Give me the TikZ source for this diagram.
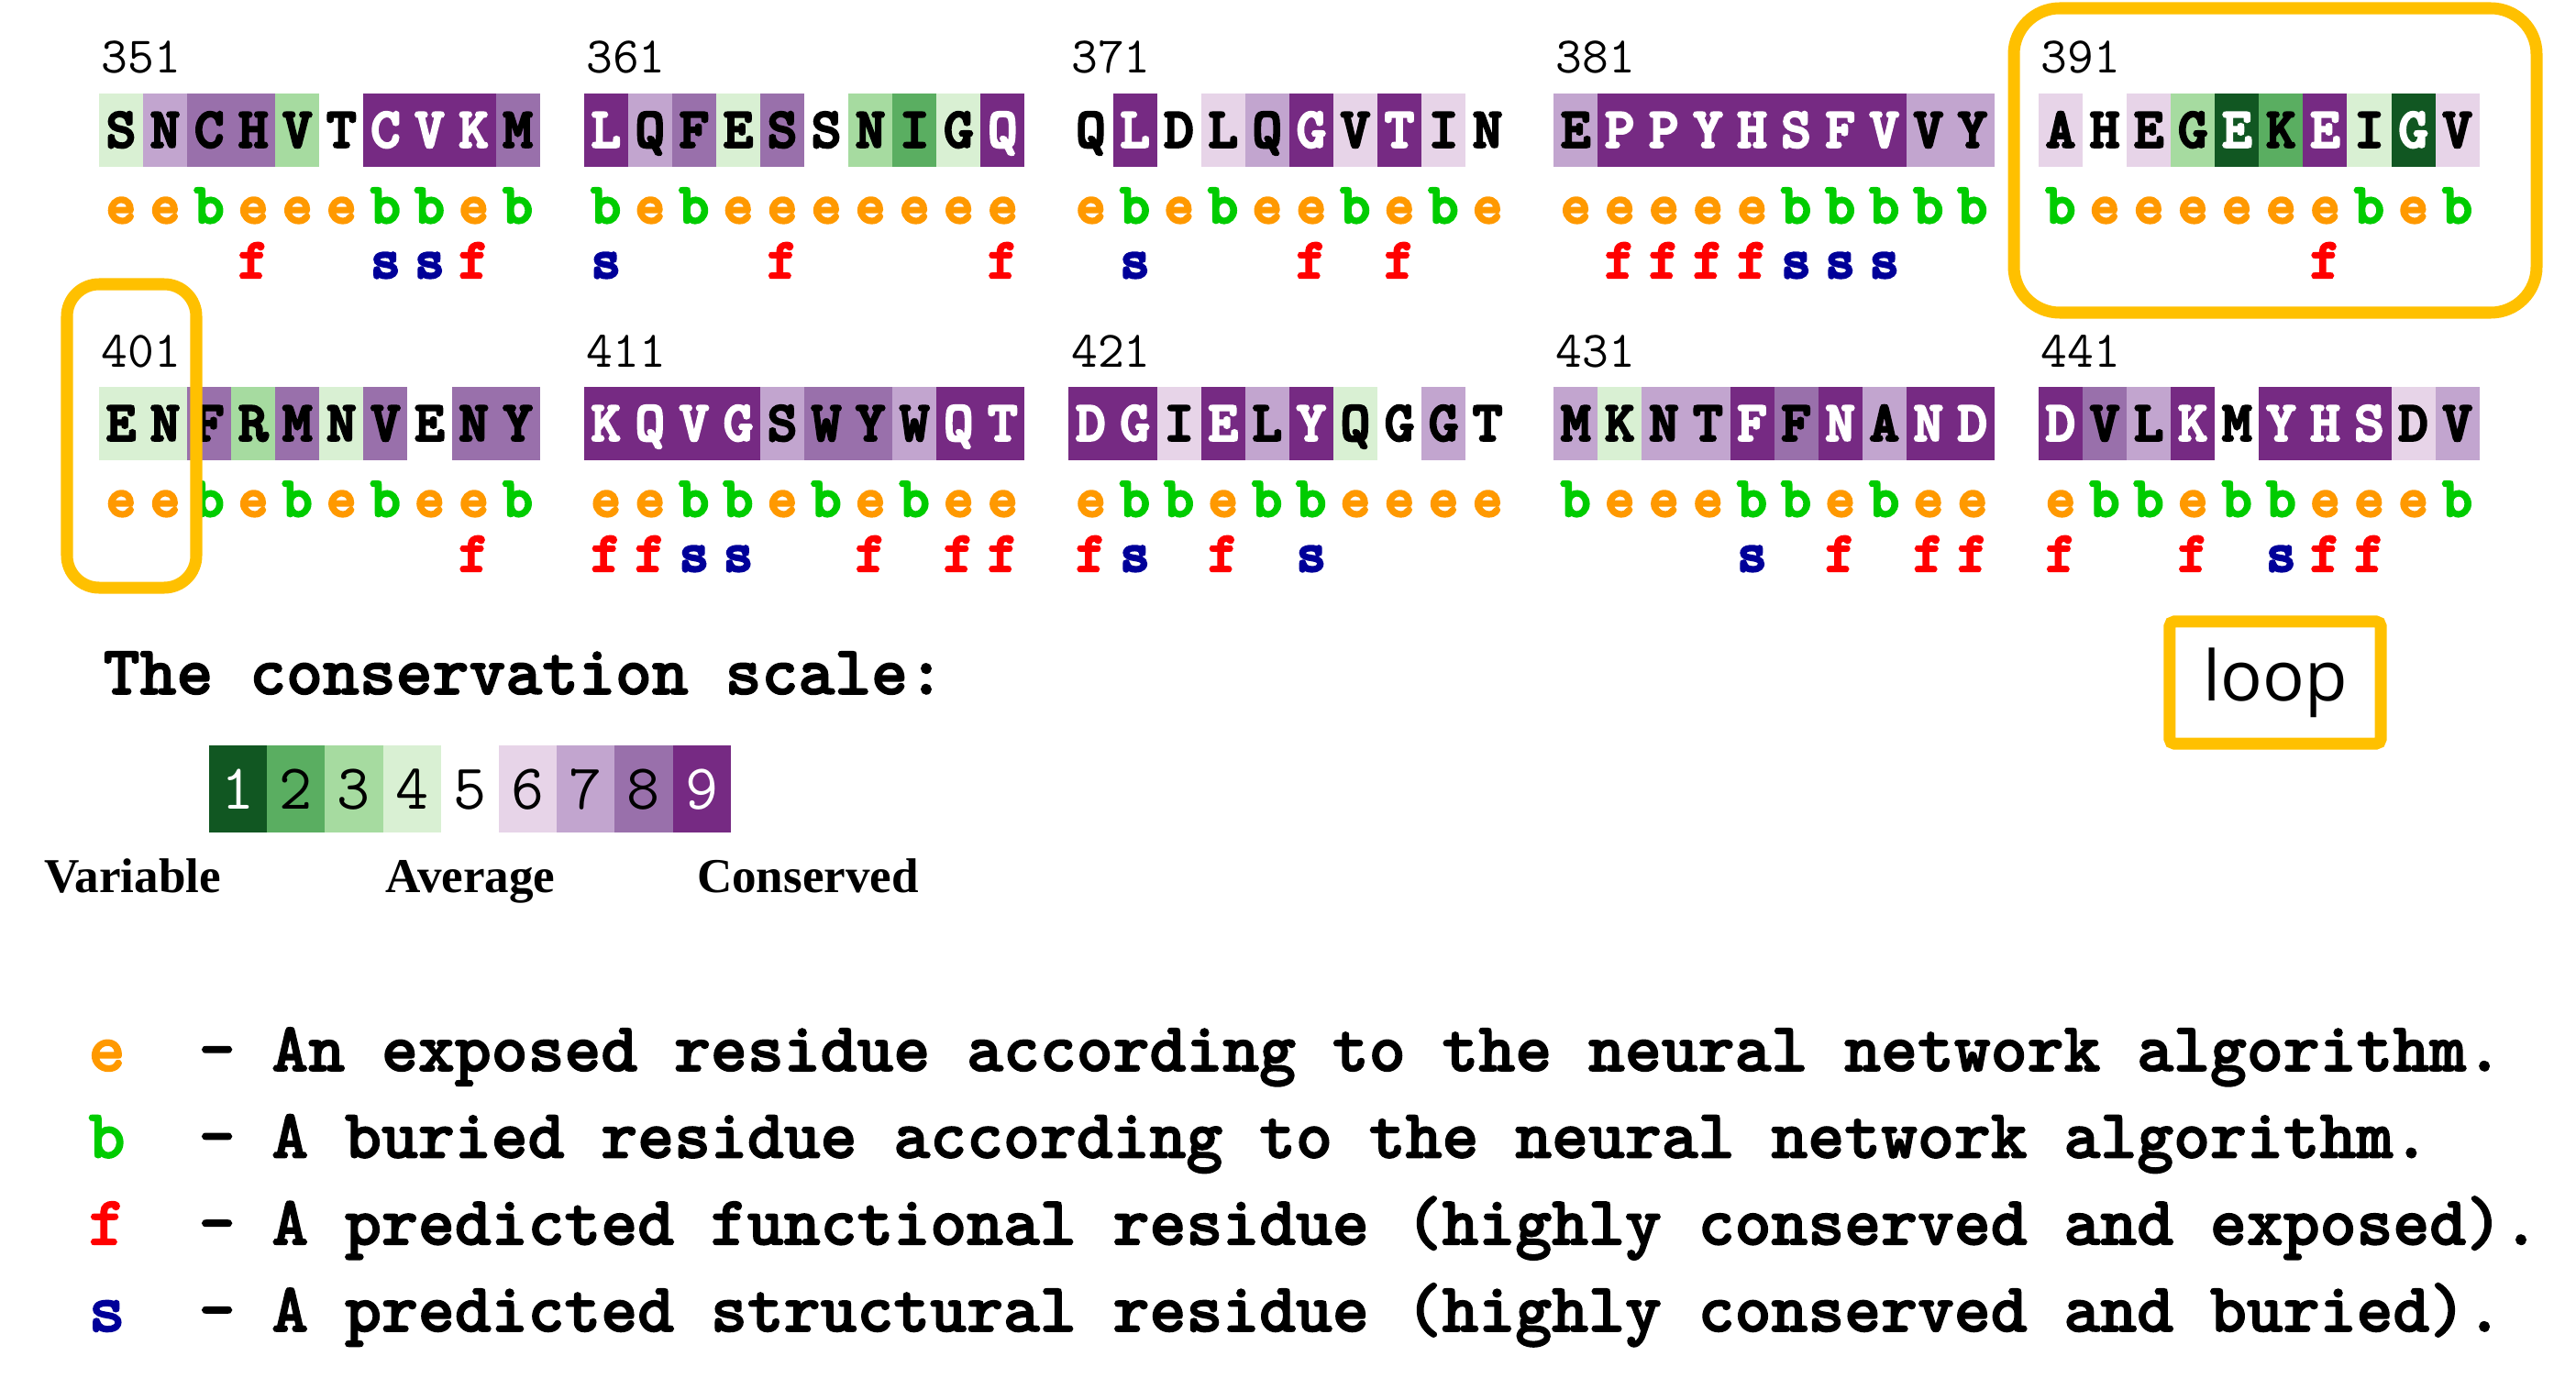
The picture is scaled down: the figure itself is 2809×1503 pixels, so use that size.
\documentclass[tikz,border=0pt]{standalone}
\usepackage{fontspec}
\newfontfamily\loopfont{Open Sans}
\newfontfamily\timesfont{Liberation Serif}
\newfontfamily\courbold{lmmonolt10-bold}[Extension=.otf,FakeBold=2]
\newfontfamily\courheavy{lmmonolt10-bold}[Extension=.otf,FakeBold=4]
\usetikzlibrary{positioning}

\definecolor{cg1}{RGB}{17,87,34}
\definecolor{cg2}{RGB}{90,174,97}
\definecolor{cg3}{RGB}{166,219,160}
\definecolor{cg4}{RGB}{217,240,211}
\definecolor{cg6}{RGB}{231,212,232}
\definecolor{cg7}{RGB}{194,165,207}
\definecolor{cg8}{RGB}{153,112,171}
\definecolor{cg9}{RGB}{118,42,131}
\definecolor{cexp}{RGB}{255,153,0}
\definecolor{cbur}{RGB}{0,204,0}
\definecolor{cfun}{RGB}{255,0,0}
\definecolor{cstr}{RGB}{0,0,153}
\definecolor{gold}{RGB}{255,192,0}

\newcommand{\resfont}{\fontsize{17.6pt}{18pt}\courheavy}
\newcommand{\posfont}{\fontsize{15.9pt}{16pt}\ttfamily\selectfont}
\newcommand{\keyfont}{\fontsize{21.6pt}{22pt}\courbold}
\newcommand{\gradefont}{\fontsize{19.9pt}{20pt}\ttfamily\selectfont}
\newcommand{\lblfont}{\fontsize{15.1pt}{16pt}\timesfont\bfseries\selectfont}
\def\nomark{n}

\begin{document}
\begin{tikzpicture}[x=0.01cm,y=-0.01cm,
  resbox/.style={minimum width=0.4807cm,minimum height=0.8cm,inner sep=0pt,text height=0.37cm,text depth=0pt,font=\resfont,text=black},
  gradebox/.style={minimum width=0.632cm,minimum height=0.95cm,inner sep=0pt,text height=0.43cm,text depth=0pt,font=\gradefont,text=black},
  g1/.style={fill=cg1,text=white},g2/.style={fill=cg2},g3/.style={fill=cg3},g4/.style={fill=cg4},
  g5/.style={},g6/.style={fill=cg6},g7/.style={fill=cg7},g8/.style={fill=cg8},
  g9/.style={fill=cg9,text=white},
  expo/.style={font=\resfont,inner sep=0pt,anchor=base},
  expe/.style={text=cexp},expb/.style={text=cbur},sitef/.style={text=cfun},sites/.style={text=cstr},
  poslbl/.style={font=\posfont,inner sep=0pt,anchor=base west},
  keytxt/.style={font=\keyfont,inner sep=0pt,anchor=base west},
  scalelbl/.style={font=\lblfont,inner sep=0pt,anchor=base},
  hilite/.style={draw=gold,line width=0.13cm},
  loopbox/.style={draw=gold,line width=0.13cm,minimum width=2.3cm,minimum height=1.33cm,rounded corners=0.05cm,text=black,font={\fontsize{21.6pt}{22pt}\loopfont}}]
\useasboundingbox (0,0) rectangle (2809,1503);

\foreach \start/\col/\rw/\lst in {
  351/0/0/{S/4/e/n,N/7/e/n,C/8/b/n,H/8/e/f,V/3/e/n,T/5/e/n,C/9/b/s,V/9/b/s,K/9/e/f,M/8/b/n},
  361/1/0/{L/9/b/s,Q/7/e/n,F/8/b/n,E/4/e/n,S/8/e/f,S/5/e/n,N/3/e/n,I/2/e/n,G/4/e/n,Q/9/e/f},
  371/2/0/{Q/5/e/n,L/9/b/s,D/5/e/n,L/6/b/n,Q/7/e/n,G/9/e/f,V/6/b/n,T/9/e/f,I/6/b/n,N/5/e/n},
  381/3/0/{E/7/e/n,P/9/e/f,P/9/e/f,Y/9/e/f,H/9/e/f,S/9/b/s,F/9/b/s,V/9/b/s,V/7/b/n,Y/7/b/n},
  391/4/0/{A/6/b/n,H/5/e/n,E/6/e/n,G/3/e/n,E/1/e/n,K/2/e/n,E/9/e/f,I/4/b/n,G/1/e/n,V/6/b/n},
  401/0/1/{E/4/e/n,N/4/e/n,F/8/b/n,R/3/e/n,M/8/b/n,N/4/e/n,V/8/b/n,E/5/e/n,N/8/e/f,Y/8/b/n},
  411/1/1/{K/9/e/f,Q/9/e/f,V/9/b/s,G/9/b/s,S/7/e/n,W/8/b/n,Y/8/e/f,W/7/b/n,Q/9/e/f,T/9/e/f},
  421/2/1/{D/9/e/f,G/9/b/s,I/6/b/n,E/9/e/f,L/7/b/n,Y/9/b/s,Q/4/e/n,G/5/e/n,G/7/e/n,T/5/e/n},
  431/3/1/{M/7/b/n,K/4/e/n,N/7/e/n,T/7/e/n,F/9/b/s,F/8/b/n,N/9/e/f,A/7/b/n,N/9/e/f,D/9/e/f},
  441/4/1/{D/9/e/f,V/8/b/n,L/7/b/n,K/9/e/f,M/5/b/n,Y/9/b/s,H/9/e/f,S/9/e/f,D/6/e/n,V/7/b/n}}{
  \pgfmathsetmacro\bx{108+528.75*\col}
  \pgfmathsetmacro\by{320*\rw}
  \node[poslbl] (pos\start) at (\bx+2,80+\by) {\start};
  \foreach \res/\gr/\ex/\st [count=\i from 0] in \lst {
    \pgfmathsetmacro\cx{\bx+24+48.07*\i}
    \node[resbox,g\gr] (res\start-\i) at (\cx,142+\by) {\res};
    \node[expo,exp\ex] (exp\start-\i) at (\cx,243+\by) {\ex};
    \ifx\st\nomark\else
      \node[expo,site\st] (site\start-\i) at (\cx,303+\by) {\st};
    \fi
  }
}

\draw[hilite,rounded corners=0.5cm] (2196,9) rectangle (2766,341);
\draw[hilite,rounded corners=0.35cm] (73,310) rectangle (214,641);
\node[loopbox] (looplbl) at (2481,744.5) {loop};

\node[keytxt] (scalehead) at (112,757) {The conservation scale:};
\foreach \gr [count=\j from 0] in {1,...,9}
  \node[gradebox,g\gr] (grade\gr) at (259.6+63.2*\j,860.5) {\gr};
\node[scalelbl] (variable) at (144.5,973) {Variable};
\node[scalelbl] (average) at (513,973) {Average};
\node[scalelbl] (conserved) at (881,973) {Conserved};

\foreach \ltr/\clr/\txt [count=\j from 0] in {
  e/cexp/{An exposed residue according to the neural network algorithm.},
  b/cbur/{A buried residue according to the neural network algorithm.},
  f/cfun/{A predicted functional residue (highly conserved and exposed).},
  s/cstr/{A predicted structural residue (highly conserved and buried).}}{
  \node[keytxt,text=\clr] (key\ltr) at (96,1168+94.7*\j) {\ltr};
  \node[keytxt] (desc\ltr) at (216,1168+94.7*\j) {- \txt};
}
\end{tikzpicture}
\end{document}
